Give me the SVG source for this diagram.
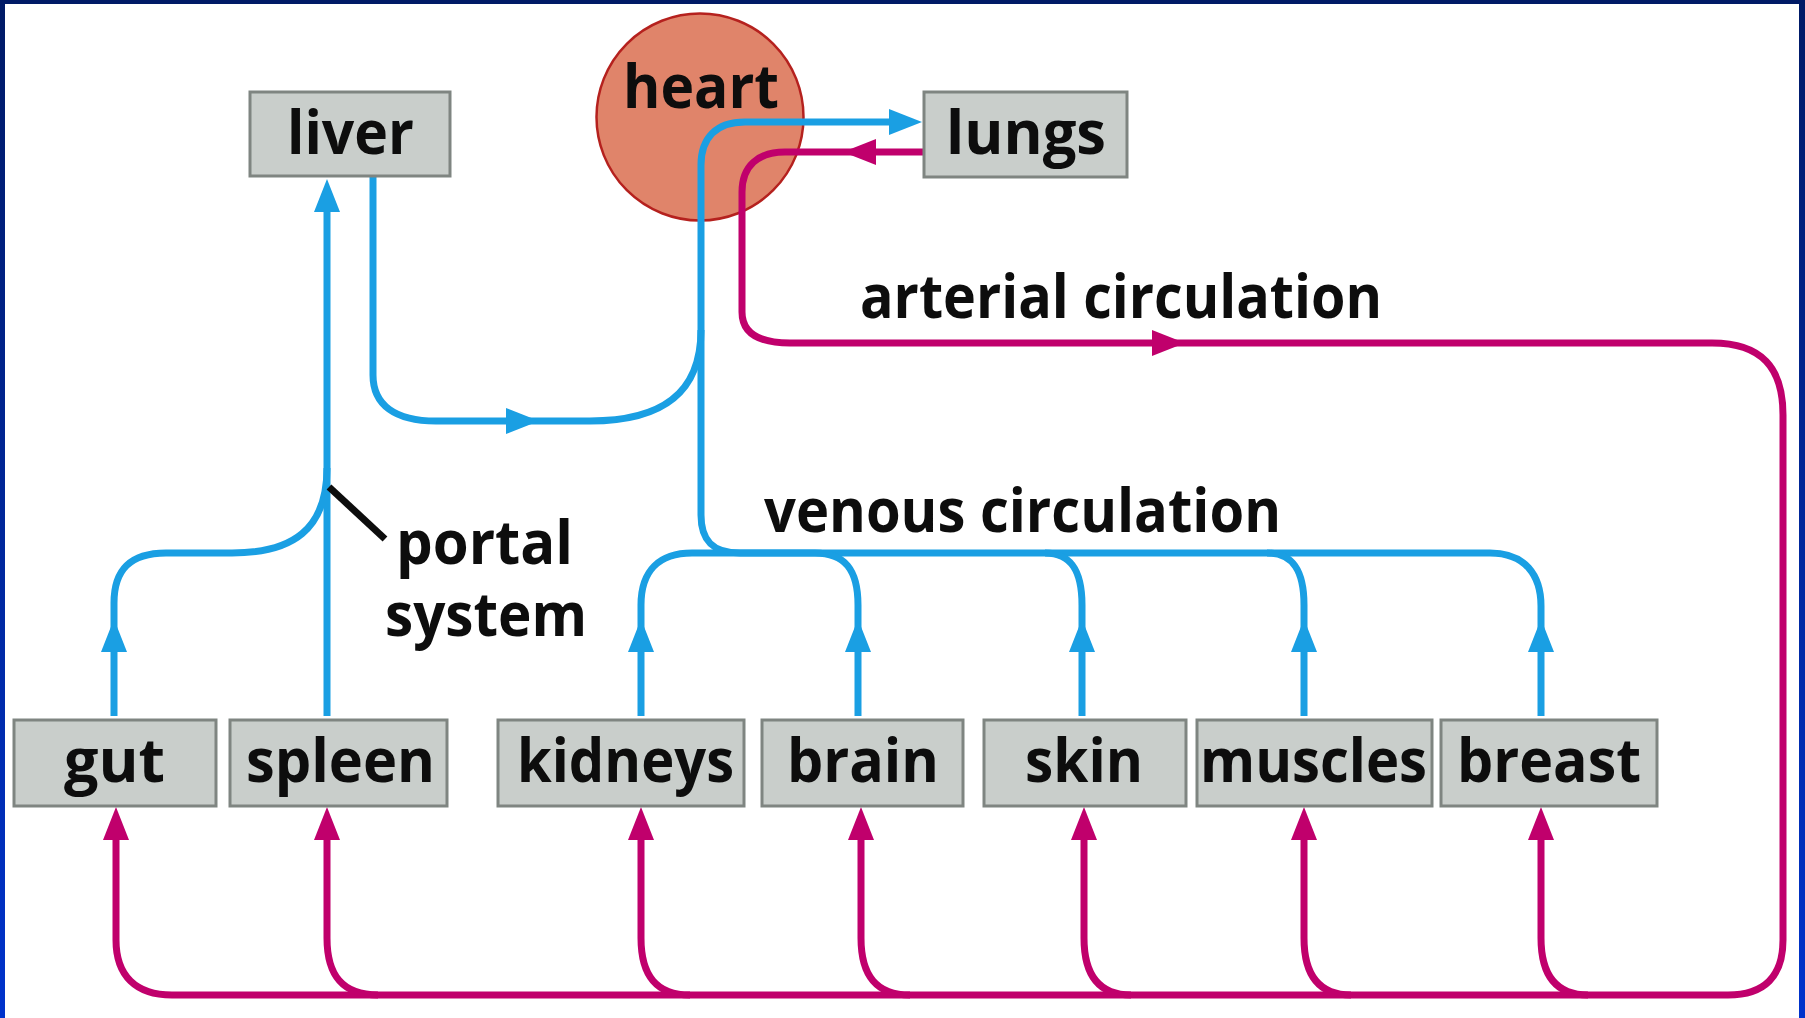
<svg xmlns="http://www.w3.org/2000/svg" xmlns:xlink="http://www.w3.org/1999/xlink" width="1805" height="1018" viewBox="0 0 1805 1018">
  <style>
    .box { fill: #c9cecb; stroke: #7f8581; stroke-width: 3; }
    .lbl { font-family: "Open Sans", "Liberation Sans", sans-serif; font-weight: 700; font-size: 60px; fill: #0d0d0d; }
    .blue { fill: none; stroke: #1a9fe3; stroke-width: 7; }
    .mag { fill: none; stroke: #c0006c; stroke-width: 7; }
    .ab { fill: #1a9fe3; }
    .am { fill: #c0006c; }
  </style>
  <defs>
    <linearGradient id="side" x1="0" y1="0" x2="0" y2="1">
      <stop offset="0" stop-color="#001a66"/>
      <stop offset="1" stop-color="#0033cc"/>
    </linearGradient>
    <path id="ah" d="M0,0 L-13,33 L13,33 Z"/>
  </defs>

  <rect x="0" y="0" width="1805" height="1018" fill="#ffffff"/>
  <rect x="0" y="0" width="1805" height="4" fill="#001a66"/>
  <rect x="0" y="0" width="5" height="1018" fill="url(#side)"/>
  <rect x="1799" y="0" width="6" height="1018" fill="url(#side)"/>

  <g id="heart">
    <circle cx="700" cy="117" r="103.5" fill="#e0846a" stroke="#b5211e" stroke-width="2.5"/>
  </g>

  <g id="connectors">
    <!-- blue: venous / portal -->
    <path class="blue" d="M114,716 V603 C114,570 130,553 166,553 H232 C292,553 327,530 327,468"/>
    <path class="blue" d="M327,716 V205"/>
    <path class="blue" d="M373,176 V375 C373,405 395,421 436,421 H590 C660,421 701,395 701,330"/>
    <path class="blue" d="M1541,716 V606 C1541,575 1525,553 1490,553 H740 C712,553 701,540 701,515 V165 C701,138 716,122 745,122 H895"/>
    <path class="blue" d="M641,716 V605 C641,570 660,553 692,553 H815 C845,553 858,570 858,605 V716"/>
    <path class="blue" d="M1082,716 V605 C1082,572 1072,553 1045,553"/>
    <path class="blue" d="M1304,716 V605 C1304,572 1294,553 1267,553"/>
    <!-- magenta: arterial -->
    <path class="mag" d="M923,152 H785 C758,152 742,166 742,192 V312 C742,333 758,343 790,343 H1712 C1762,343 1783,368 1783,415 V940 C1783,976 1765,995 1728,995 H172 C136,995 116,976 116,940 V838"/>
    <path class="mag" d="M327,838 V938 C327,975 342,995 378,995"/>
    <path class="mag" d="M641,838 V938 C641,975 656,995 690,995"/>
    <path class="mag" d="M861,838 V938 C861,975 876,995 910,995"/>
    <path class="mag" d="M1084,838 V938 C1084,975 1099,995 1131,995"/>
    <path class="mag" d="M1304,838 V938 C1304,975 1319,995 1351,995"/>
    <path class="mag" d="M1541,838 V938 C1541,975 1556,995 1588,995"/>
    <!-- portal pointer -->
    <line x1="329" y1="487" x2="385" y2="539" stroke="#0d0d0d" stroke-width="7"/>
    <!-- blue arrowheads -->
    <use href="#ah" class="ab" transform="translate(114,619)"/>
    <use href="#ah" class="ab" transform="translate(327,179)"/>
    <use href="#ah" class="ab" transform="translate(641,619)"/>
    <use href="#ah" class="ab" transform="translate(858,619)"/>
    <use href="#ah" class="ab" transform="translate(1082,619)"/>
    <use href="#ah" class="ab" transform="translate(1304,619)"/>
    <use href="#ah" class="ab" transform="translate(1541,619)"/>
    <use href="#ah" class="ab" transform="translate(539,421) rotate(90)"/>
    <use href="#ah" class="ab" transform="translate(922,122) rotate(90)"/>
    <!-- magenta arrowheads -->
    <use href="#ah" class="am" transform="translate(116,807)"/>
    <use href="#ah" class="am" transform="translate(327,807)"/>
    <use href="#ah" class="am" transform="translate(641,807)"/>
    <use href="#ah" class="am" transform="translate(861,807)"/>
    <use href="#ah" class="am" transform="translate(1084,807)"/>
    <use href="#ah" class="am" transform="translate(1304,807)"/>
    <use href="#ah" class="am" transform="translate(1541,807)"/>
    <use href="#ah" class="am" transform="translate(843,152) rotate(-90)"/>
    <use href="#ah" class="am" transform="translate(1185,343) rotate(90)"/>
  </g>

  <g id="heart-label">
    <text class="lbl" x="623" y="108" textLength="156" lengthAdjust="spacingAndGlyphs">heart</text>
  </g>
  <g id="liver">
    <rect class="box" x="250" y="92" width="200" height="84"/>
    <text class="lbl" x="287" y="154" textLength="127" lengthAdjust="spacingAndGlyphs">liver</text>
  </g>
  <g id="lungs">
    <rect class="box" x="924" y="92" width="203" height="85"/>
    <text class="lbl" x="946" y="154" textLength="160" lengthAdjust="spacingAndGlyphs">lungs</text>
  </g>
  <g id="gut">
    <rect class="box" x="14" y="720" width="202" height="86"/>
    <text class="lbl" x="64" y="782" textLength="101" lengthAdjust="spacingAndGlyphs">gut</text>
  </g>
  <g id="spleen">
    <rect class="box" x="230" y="720" width="217" height="86"/>
    <text class="lbl" x="246" y="782" textLength="189" lengthAdjust="spacingAndGlyphs">spleen</text>
  </g>
  <g id="kidneys">
    <rect class="box" x="498" y="720" width="246" height="86"/>
    <text class="lbl" x="517" y="782" textLength="217" lengthAdjust="spacingAndGlyphs">kidneys</text>
  </g>
  <g id="brain">
    <rect class="box" x="762" y="720" width="201" height="86"/>
    <text class="lbl" x="787" y="782" textLength="152" lengthAdjust="spacingAndGlyphs">brain</text>
  </g>
  <g id="skin">
    <rect class="box" x="984" y="720" width="202" height="86"/>
    <text class="lbl" x="1025" y="782" textLength="118" lengthAdjust="spacingAndGlyphs">skin</text>
  </g>
  <g id="muscles">
    <rect class="box" x="1197" y="720" width="235" height="86"/>
    <text class="lbl" x="1200" y="782" textLength="227" lengthAdjust="spacingAndGlyphs">muscles</text>
  </g>
  <g id="breast">
    <rect class="box" x="1441" y="720" width="216" height="86"/>
    <text class="lbl" x="1457" y="782" textLength="184" lengthAdjust="spacingAndGlyphs">breast</text>
  </g>

  <g id="labels">
    <text class="lbl" x="860" y="318" textLength="522" lengthAdjust="spacingAndGlyphs">arterial circulation</text>
    <text class="lbl" x="764" y="532" textLength="517" lengthAdjust="spacingAndGlyphs">venous circulation</text>
    <text class="lbl" x="396" y="564" textLength="177" lengthAdjust="spacingAndGlyphs">portal</text>
    <text class="lbl" x="385" y="636" textLength="202" lengthAdjust="spacingAndGlyphs">system</text>
  </g>
</svg>
